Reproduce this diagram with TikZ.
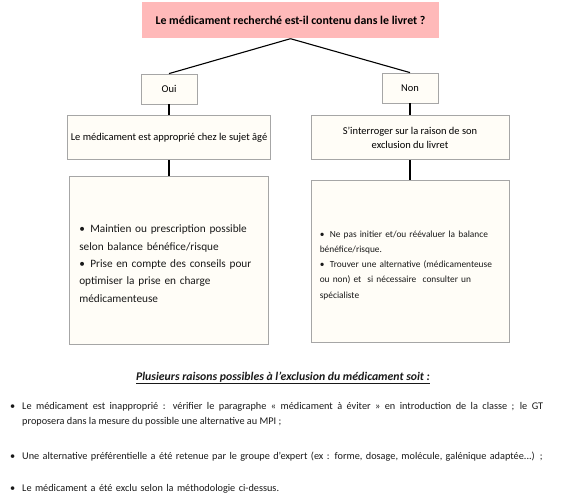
\documentclass[tikz,border=0pt]{standalone}
\usepackage{fontspec}
\setmainfont{Carlito}
\usetikzlibrary{positioning}
\definecolor{TitlePink}{RGB}{255,185,185}
\definecolor{BoxCream}{RGB}{255,253,247}
\definecolor{BoxGray}{RGB}{166,166,166}
\definecolor{InkGray}{RGB}{25,25,25}
\tikzset{
  question/.style={fill=TitlePink,minimum width=297bp,minimum height=36bp,
    font=\fontsize{11.9}{13}\selectfont\bfseries},
  answer/.style={draw=BoxGray,fill=BoxCream,thick,minimum width=56bp,
    minimum height=30bp,font=\fontsize{10.5}{12}\selectfont},
  verdict/.style={draw=BoxGray,fill=BoxCream,thick,minimum height=44bp,
    align=center,font=\fontsize{10.5}{14}\selectfont},
  advice/.style={draw=BoxGray,fill=BoxCream,thick},
  listtext/.style={inner sep=0pt,align=left,text=InkGray},
  link/.style={line width=1.1bp,black}
}
\newcommand{\bulletitem}[2][11bp]{\hangindent=#1\hangafter=1\noindent
  \makebox[#1][l]{\textbullet}#2\par}

\begin{document}
\begin{tikzpicture}[x=1bp,y=-1bp,node distance=11bp]
  \useasboundingbox (0,0) rectangle (563,497);
  % question and answers
  \node[question] (ask) at (290.5,20.5) {Le médicament recherché est-il contenu dans le livret ?};
  \node[answer] (oui) at (169,89) {Oui};
  \node[answer] (non) at (410,88) {Non};
  \node[verdict,minimum width=200bp,below=11bp of oui] (suits) {Le médicament est approprié chez le sujet âgé};
  \node[verdict,minimum width=198bp,below=12bp of non] (why) {S’interroger sur la raison de son\\exclusion du livret};
  \node[advice,minimum width=199bp,minimum height=168bp,below=16bp of suits] (keep) {};
  \node[advice,minimum width=198bp,minimum height=162bp,below=20bp of why] (avoid) {};
  % box contents
  \node[listtext,text width=185bp,font=\fontsize{11.3}{17.5}\selectfont,anchor=west]
    (keeplist) at ([xshift=10bp,yshift=-3bp]keep.west)
    {\bulletitem{Maintien ou prescription possible\\selon balance bénéfice/risque}%
     \bulletitem{Prise en compte des conseils pour\\optimiser la prise en charge\\médicamenteuse}};
  \node[listtext,text width=185bp,font=\fontsize{9.4}{15.3}\selectfont,anchor=west]
    (avoidlist) at ([xshift=9bp,yshift=-3.5bp]avoid.west)
    {\bulletitem[10bp]{Ne pas initier et/ou réévaluer la balance\\bénéfice/risque.}%
     \bulletitem[10bp]{Trouver une alternative (médicamenteuse\\ou non) et\ \ si nécessaire\ \ consulter un\\spécialiste}};
  % connectors
  \draw[link] (ask.south) -- (oui.north);
  \draw[link] (ask.south) -- (non.north);
  \draw[link] (oui) -- (suits);
  \draw[link] (suits) -- (keep);
  \draw[link] (non) -- (why);
  \draw[link] (why) -- (avoid);
  % reasons below
  \node[font=\fontsize{11.8}{13}\selectfont\bfseries\itshape,text=InkGray] (reasons) at (283,378)
    {\underline{Plusieurs raisons possibles à l'exclusion du médicament soit :}};
  \node[listtext,align=justify,text width=533bp,font=\fontsize{10.3}{15}\selectfont,anchor=base west]
    (reason1) at (10,409.5)
    {\bulletitem[12bp]{Le médicament est inapproprié : vérifier le paragraphe « médicament à éviter » en introduction de la classe ; le GT\linebreak proposera dans la mesure du possible une alternative au MPI ;}};
  \node[listtext,text width=533bp,font=\fontsize{10.3}{15}\selectfont,anchor=base west]
    (reason2) at (10,459.5)
    {\bulletitem[12bp]{Une alternative préférentielle a été retenue par le groupe d’expert (ex : forme, dosage, molécule, galénique adaptée...) ;}};
  \node[listtext,text width=533bp,font=\fontsize{10.3}{15}\selectfont,anchor=base west]
    (reason3) at (10,491.5)
    {\bulletitem[12bp]{Le médicament a été exclu selon la méthodologie ci-dessus.}};
\end{tikzpicture}
\end{document}
